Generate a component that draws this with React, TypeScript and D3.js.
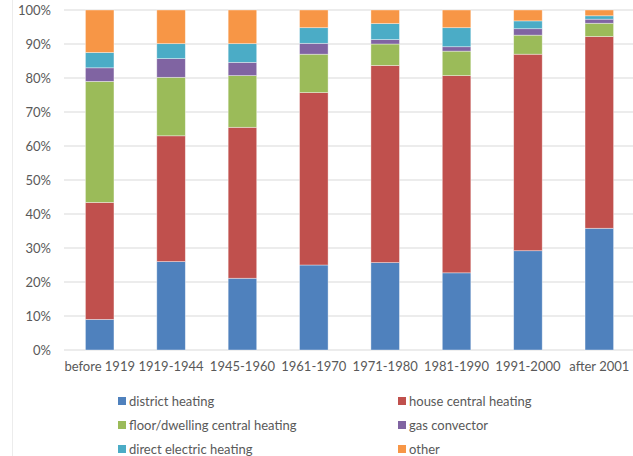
import React from "react";
import * as d3 from "d3";

// periods of construction
const periods = [
  "before 1919",
  "1919-1944",
  "1945-1960",
  "1961-1970",
  "1971-1980",
  "1981-1990",
  "1991-2000",
  "after 2001",
];

// share of dwellings (%) per heating type, one value per period
const districtHeating = [9.0, 26.0, 21.1, 25.0, 25.7, 22.7, 29.2, 35.8];
const houseCentralHeating = [34.4, 37.0, 44.4, 50.7, 58.0, 58.0, 57.8, 56.4];
const floorCentralHeating = [35.6, 17.2, 15.2, 11.3, 6.3, 7.2, 5.6, 3.9];
const gasConvector = [4.0, 5.5, 3.9, 3.2, 1.3, 1.3, 1.9, 1.2];
const directElectric = [4.5, 4.4, 5.5, 4.6, 4.7, 5.6, 2.3, 1.0];
const other = [12.5, 9.9, 9.9, 5.2, 4.0, 5.2, 3.2, 1.7];

const seriesNames = [
  "district heating",
  "house central heating",
  "floor/dwelling central heating",
  "gas convector",
  "direct electric heating",
  "other",
];
const seriesValues = [
  districtHeating,
  houseCentralHeating,
  floorCentralHeating,
  gasConvector,
  directElectric,
  other,
];
const colors = ["#4F81BD", "#C0504D", "#9BBB59", "#8064A2", "#4BACC6", "#F79646"];

const yTicks = [0, 10, 20, 30, 40, 50, 60, 70, 80, 90, 100];

const font = "Lato, 'Liberation Sans', sans-serif";

export default function App() {
  const width = 633;
  const height = 456;
  const margin = { top: 10, right: 0, bottom: 106, left: 64 };

  const x = d3
    .scaleBand()
    .domain(periods)
    .range([margin.left, 635])
    .paddingInner(0.6)
    .paddingOuter(0.3);
  const y = d3.scaleLinear().domain([0, 100]).range([height - margin.bottom, margin.top]);

  // build rows for d3.stack
  const rows = periods.map((p, i) => {
    const row: any = { period: p };
    seriesNames.forEach((s, k) => {
      row[s] = seriesValues[k][i];
    });
    return row;
  });
  const stacked = d3.stack().keys(seriesNames)(rows);

  const legendX = [118, 398];
  const legendY = [401, 425, 449];

  return (
    <div style={{ position: "absolute", left: 0, top: 0 }}>
      <svg width={width} height={height} style={{ display: "block", background: "#fff" }}>
        <line x1={12.5} x2={12.5} y1={0} y2={height} stroke="#ececec" />
        {yTicks.map((t) => (
          <g key={t}>
            <line x1={margin.left} x2={width} y1={y(t)} y2={y(t)} stroke="#D9D9D9" strokeWidth={1} />
            <text
              x={51}
              y={y(t)}
              dy="0.35em"
              textAnchor="end"
              fontFamily={font}
              fontSize={13}
              fill="#595959"
            >
              {t}%
            </text>
          </g>
        ))}
        {stacked.map((layer, k) => (
          <g key={layer.key} fill={colors[k]}>
            {layer.map((d, i) => (
              <rect
                key={i}
                x={x(periods[i])}
                width={x.bandwidth()}
                y={y(d[1])}
                height={y(d[0]) - y(d[1])}
                stroke="#fff"
                strokeOpacity={0.5}
                strokeWidth={0.75}
              />
            ))}
          </g>
        ))}
        {periods.map((p) => (
          <text
            key={p}
            x={(x(p) as number) + x.bandwidth() / 2}
            y={371}
            textAnchor="middle"
            fontFamily={font}
            fontSize={13}
            fill="#595959"
          >
            {p}
          </text>
        ))}
        {seriesNames.map((s, k) => {
          const lx = legendX[k % 2];
          const ly = legendY[Math.floor(k / 2)];
          return (
            <g key={s}>
              <rect x={lx} y={ly - 4} width={8} height={8} fill={colors[k]} />
              <text x={lx + 11} y={ly} dy="0.35em" fontFamily={font} fontSize={13} fill="#595959">
                {s}
              </text>
            </g>
          );
        })}
      </svg>
    </div>
  );
}
